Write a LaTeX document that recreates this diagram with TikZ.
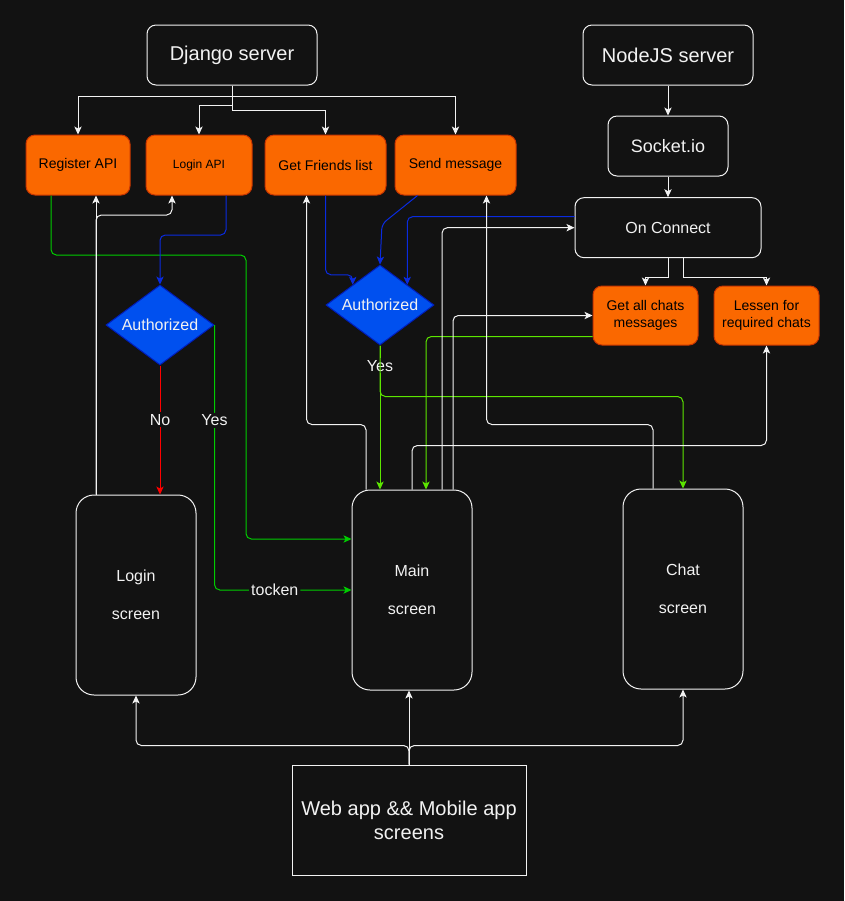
\documentclass[tikz,border=0pt]{standalone}
\usepackage{xcolor}
\usepackage{fontspec}
\setmainfont{Liberation Sans}
\usepackage{tikz}
\usetikzlibrary{shapes,arrows,arrows.meta,positioning,calc}

\definecolor{bgdark}{HTML}{121212}
\definecolor{apiorange}{HTML}{FA6800}
\definecolor{apiedge}{HTML}{C73500}
\definecolor{authblue}{HTML}{0050EF}
\definecolor{authedge}{HTML}{001DBC}
\definecolor{lineblue}{HTML}{0A2BE0}
\definecolor{linegreen}{HTML}{00CC00}
\definecolor{linelime}{HTML}{5CE600}
\definecolor{linered}{HTML}{FF0000}
\definecolor{linewhite}{HTML}{F2F2F2}

\begin{document}
\begin{tikzpicture}[
    x=0.75pt, y=-0.75pt,
    line width=0.75pt,
    every node/.style={text=linewhite},
    server/.style={rectangle, draw=linewhite, fill=bgdark, rounded corners=6.75pt, minimum width=127.5pt, minimum height=45pt, font=\fontsize{15}{18}\selectfont},
    api/.style={rectangle, draw=apiedge, fill=apiorange, text=black, rounded corners=6.75pt, minimum width=78pt, minimum height=45pt, align=center, font=\fontsize{10.5}{13}\selectfont},
    auth/.style={diamond, aspect=1.35, draw=authedge, fill=authblue, inner sep=0pt, minimum width=81pt, minimum height=60pt, font=\fontsize{12}{14}\selectfont},
    screen/.style={rectangle, draw=linewhite, fill=bgdark, rounded corners=13.5pt, minimum width=90pt, minimum height=150pt, align=center, font=\fontsize{12}{28.5}\selectfont},
    app/.style={rectangle, draw=linewhite, fill=bgdark, minimum width=175.5pt, minimum height=82.5pt, align=center, font=\fontsize{15}{18}\selectfont},
    arrow/.style={->, >={Stealth[length=6pt, width=5.5pt, inset=1.5pt]}, draw=linewhite},
    flow/.style={rounded corners=4pt},
    lbl/.style={fill=bgdark, inner sep=1.5pt, font=\fontsize{12}{14}\selectfont}
]
    % Canvas
    \fill[bgdark] (0,0) rectangle (844,901);
    \useasboundingbox (0,0) rectangle (844,901);

    % Django side
    \node[server] (django) at (232,55) {Django server};
    \node[api] (register) at (78,165) {Register API};
    \node[api, minimum width=79.5pt, font=\fontsize{9}{11}\selectfont] (loginapi) at (199,165) {Login API};
    \node[api, minimum width=90.75pt] (friends) at (325.5,165) {Get Friends list};
    \node[api, minimum width=90.75pt] (send) at (455.5,165) {Send message};

    % NodeJS side
    \node[server] (nodejs) at (668,55) {NodeJS server};
    \node[server, below=22.5pt of nodejs, minimum width=90pt, font=\fontsize{13.5}{16}\selectfont] (socket) {Socket.io};
    \node[server, below=15.5pt of socket, minimum width=139.5pt, font=\fontsize{12}{14}\selectfont] (connect) {On Connect};
    \node[api, minimum width=78.75pt, minimum height=44.25pt] (getchats) at (645.5,315.5) {Get all chats\\messages};
    \node[api, right=11.25pt of getchats, minimum width=78.75pt, minimum height=44.25pt] (lessen) {Lessen for\\required chats};

    % Checks
    \node[auth] (authA) at (160,325) {Authorized};
    \node[auth] (authB) at (380,305) {Authorized};

    % Screens
    \node[screen] (loginscr) at (136,595) {Login\\screen};
    \node[screen] (mainscr) at (412,590) {Main\\screen};
    \node[screen] (chatscr) at (683,589) {Chat\\screen};
    \node[app] (webapp) at (409,820) {Web app \&\& Mobile app\\screens};

    % Django routes
    \draw[arrow] (django.south) -- ++(0,11) -| (register.north);
    \draw[arrow] (django.south) -- ++(0,11) -| (send.north);
    \draw[arrow] (django.south) -- ++(0,20) -| (loginapi.north);
    \draw[arrow] (django.south) -- ++(0,25) -| (friends.north);

    % Socket chain
    \draw[arrow] (nodejs) -- (socket);
    \draw[arrow] (socket) -- (connect);
    \draw[arrow] (connect.south) -- ++(0,19) -| (getchats.north);
    \draw[arrow] ([shift={(15,0)}]connect.south) -- ++(0,19) -| (lessen.north);

    % Login flow
    \draw[arrow, flow, draw=linegreen] ([shift={(-27,0)}]register.south) |- (246,255) |- ([shift={(0,-51)}]mainscr.west);
    \draw[arrow] ([shift={(-40,0)}]loginscr.north) -- ([shift={(18,0)}]register.south);
    \draw[arrow, flow] ([shift={(-40,0)}]loginscr.north) |- (172,215) -- ([shift={(-27,0)}]loginapi.south);
    \draw[arrow, flow, draw=lineblue] ([shift={(27,0)}]loginapi.south) |- (160,235) -- (authA.north);
    \draw[arrow, draw=linered] (authA.south) -- node[lbl, pos=0.42] {No} (authA.south |- loginscr.north);
    \draw[arrow, flow, draw=linegreen] (authA.east) |- node[lbl, pos=0.18] {Yes} node[lbl, pos=0.72] {tocken} (mainscr.west);

    % Friends and messages
    \draw[arrow, flow, draw=lineblue] (friends.south) |- ([shift={(0,-10)}]authB.north west) -- (authB.north west);
    \draw[arrow, flow, draw=lineblue] ([shift={(-38,0)}]send.south) -- (382,224) -- (authB.north);
    \draw[arrow, flow, draw=lineblue] ([shift={(0,-11)}]connect.west) -| (authB.north east);
    \draw[arrow, draw=linelime] (authB.south) -- node[lbl, pos=0.14] {Yes} (authB.south |- mainscr.north);
    \draw[arrow, flow, draw=linelime] (authB.south) -- ++(0,51) -| (chatscr.north);
    \draw[arrow, flow, draw=linelime] ([shift={(0,21)}]getchats.west) -| ([shift={(14,0)}]mainscr.north);

    % Main screen requests
    \draw[arrow, flow] ([shift={(-46,0)}]mainscr.north) -- ++(0,-65) -| ([shift={(-19,0)}]friends.south);
    \draw[arrow, flow] ([shift={(30,0)}]mainscr.north) |- (connect.west);
    \draw[arrow, flow] ([shift={(41,0)}]mainscr.north) |- (getchats.west);
    \draw[arrow, flow] (mainscr.north) -- ++(0,-44) -| (lessen.south);
    \draw[arrow, flow] ([shift={(-30,0)}]chatscr.north) -- ++(0,-64) -| ([shift={(31,0)}]send.south);

    % App entry
    \draw[arrow] (webapp.north) -- (webapp.north |- mainscr.south);
    \draw[arrow, flow] (webapp.north) -- ++(0,-19) -| (loginscr.south);
    \draw[arrow, flow] (webapp.north) -- ++(0,-19) -| (chatscr.south);

\end{tikzpicture}
\end{document}
